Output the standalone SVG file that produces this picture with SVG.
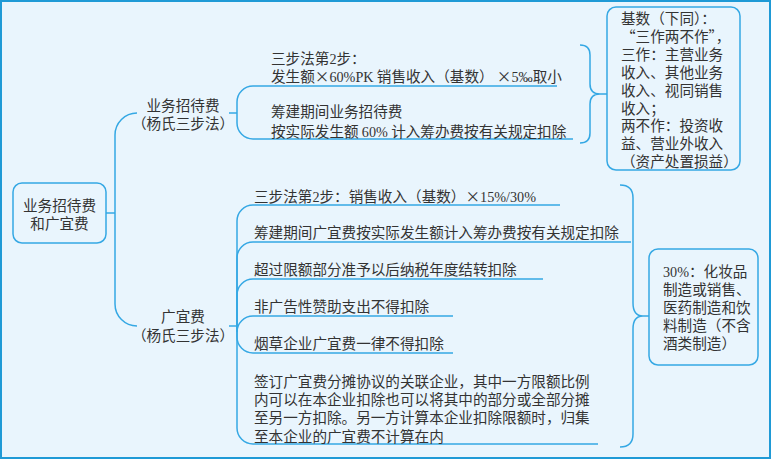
<svg xmlns="http://www.w3.org/2000/svg" width="772" height="460" viewBox="0 0 772 460">
<style>
.bg{fill:#e9f5fd;stroke:#1f9ad6;stroke-width:2}
.box{fill:#e9f5fd;stroke:#35a8e4;stroke-width:1.5}
.ln{fill:none;stroke:#35a8e4;stroke-width:1.5}
text{font-family:"Noto Sans CJK SC","Liberation Sans",sans-serif;font-size:14.6px;fill:#333}
.num{font-family:"Liberation Serif","Noto Sans CJK SC",serif;font-size:14.2px}
.mid{text-anchor:middle}
</style>
<rect class="bg" x="1" y="1" width="769" height="457"/>
<g id="connectors">
<path class="ln" d="M106 213 H115"/>
<path class="ln" d="M137 113 A22 22 0 0 0 115 135 V304 A22 22 0 0 0 137 326"/>
<path class="ln" d="M229 113 H237"/>
<path class="ln" d="M237 113 V102 A16 16 0 0 1 253 86 H557"/>
<path class="ln" d="M237 113 V123 A16 16 0 0 0 253 139 H573"/>
<path class="ln" d="M229 326 H237"/>
<path class="ln" d="M237 326 V221 A16 16 0 0 1 253 205 H560"/>
<path class="ln" d="M237 326 V258 A16 16 0 0 1 253 242 H631"/>
<path class="ln" d="M237 326 V295 A16 16 0 0 1 253 279 H543"/>
<path class="ln" d="M237 326 V332 A16 16 0 0 1 253 316 H453"/>
<path class="ln" d="M237 326 V337 A16 16 0 0 0 253 353 H453"/>
<path class="ln" d="M237 326 V428 A16 16 0 0 0 253 444 H598"/>
<path class="ln" d="M580 45 Q590 45 590 55 V84 Q590 94 600 94 H607 M600 94 Q590 94 590 104 V133 Q590 143 580 143"/>
<path class="ln" d="M620 185 Q633 185 633 198 V303 Q633 316 643 316 H649 M643 316 Q633 316 633 329 V434 Q633 447 620 447"/>
</g>
<g id="root">
<rect class="box" x="13" y="183" width="93" height="60" rx="9"/>
<text class="mid" x="59.5" y="210.5">业务招待费<tspan x="59.5" dy="18">和广宜费</tspan></text>
</g>
<g id="n-entertain">
<text class="mid" x="183" y="111">业务招待费<tspan x="183" dy="18">（杨氏三步法）</tspan></text>
</g>
<g id="n-ent-1">
<text x="271" y="64">三步法第<tspan class="num">2</tspan>步：<tspan x="271" dy="18">发生额×</tspan><tspan class="num">60%PK</tspan> 销售收入（基数） ×<tspan class="num">5‰</tspan>取小</text>
</g>
<g id="n-ent-2">
<text x="271" y="117">筹建期间业务招待费<tspan x="271" dy="19.5">按实际发生额 </tspan><tspan class="num">60%</tspan> 计入筹办费按有关规定扣除</text>
</g>
<g id="n-base">
<rect class="box" x="607" y="7" width="133" height="163" rx="9"/>
<text x="621" y="24">基数（下同）：<tspan x="621" dy="17.9">“三作两不作”，</tspan><tspan x="621" dy="17.9">三作：主营业务</tspan><tspan x="621" dy="17.9">收入、其他业务</tspan><tspan x="621" dy="17.9">收入、视同销售</tspan><tspan x="621" dy="17.9">收入；</tspan><tspan x="621" dy="17.9">两不作：投资收</tspan><tspan x="621" dy="17.9">益、营业外收入</tspan><tspan x="621" dy="17.9">（资产处置损益）</tspan></text>
</g>
<g id="n-ad">
<text class="mid" x="183" y="322">广宜费<tspan x="183" dy="19">（杨氏三步法）</tspan></text>
</g>
<g id="n-ad-1"><text x="254" y="202">三步法第<tspan class="num">2</tspan>步：销售收入（基数）×<tspan class="num">15%/30%</tspan></text></g>
<g id="n-ad-2"><text x="254" y="238">筹建期间广宜费按实际发生额计入筹办费按有关规定扣除</text></g>
<g id="n-ad-3"><text x="254" y="275">超过限额部分准予以后纳税年度结转扣除</text></g>
<g id="n-ad-4"><text x="254" y="312">非广告性赞助支出不得扣除</text></g>
<g id="n-ad-5"><text x="254" y="349">烟草企业广宜费一律不得扣除</text></g>
<g id="n-ad-6">
<text x="254" y="387">签订广宜费分摊协议的关联企业，其中一方限额比例<tspan x="254" dy="18">内可以在本企业扣除也可以将其中的部分或全部分摊</tspan><tspan x="254" dy="18">至另一方扣除。另一方计算本企业扣除限额时，归集</tspan><tspan x="254" dy="19">至本企业的广宜费不计算在内</tspan></text>
</g>
<g id="n-30">
<rect class="box" x="649" y="249" width="109" height="116" rx="9"/>
<text x="663" y="277"><tspan class="num">30%</tspan>：化妆品<tspan x="663" dy="18">制造或销售、</tspan><tspan x="663" dy="18">医药制造和饮</tspan><tspan x="663" dy="18">料制造（不含</tspan><tspan x="663" dy="18">酒类制造）</tspan></text>
</g>
</svg>
